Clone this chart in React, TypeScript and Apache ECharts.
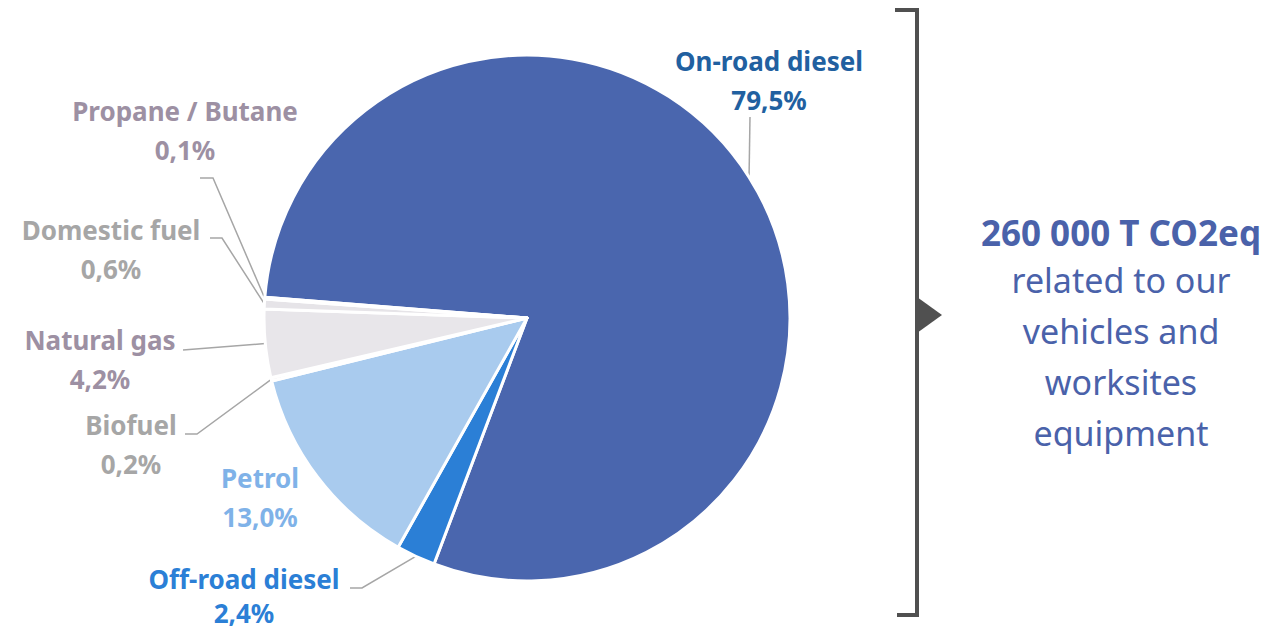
import React, { useEffect, useRef } from "react";
import * as echarts from "echarts";

const categories = [
  "On-road diesel",
  "Off-road diesel",
  "Petrol",
  "Biofuel",
  "Natural gas",
  "Domestic fuel",
  "Propane / Butane",
];
const shares = [79.5, 2.4, 13.0, 0.2, 4.2, 0.6, 0.1];
const sliceColors = ["#4a66ae", "#2b7fd6", "#a9cbee", "#e6e4e8", "#e8e6ea", "#e6e4e8", "#d8d4dc"];
const labelColors = ["#2160a0", "#2b7fd6", "#7fb2e8", "#a6a6a6", "#9d90a3", "#a6a6a6", "#9d90a3"];
const totalTitle = "260 000 T CO2eq";
const totalLines = ["related to our", "vehicles and", "worksites", "equipment"];

const CX = 527;
const CY = 318;
const R = 263;
const START = 175.5;

// label placement (centre x, middle y, line height) and label line bends
const labelPlace: Record<string, { x: number; y: number; lh: number; pts: number[][] | null }> = {
  "On-road diesel": { x: 769, y: 80, lh: 39, pts: [[750, 117], [750, 117]] },
  "Off-road diesel": { x: 244, y: 596, lh: 34, pts: [[362, 588], [350, 588]] },
  Petrol: { x: 260, y: 497, lh: 39, pts: null },
  Biofuel: { x: 131, y: 444, lh: 39, pts: [[197, 434], [185, 434]] },
  "Natural gas": { x: 100, y: 359, lh: 39, pts: [[183, 350], [183, 350]] },
  "Domestic fuel": { x: 111, y: 249, lh: 39, pts: [[222, 238], [210, 238]] },
  "Propane / Butane": { x: 185, y: 130, lh: 39, pts: [[213, 178], [200, 178]] },
};

const fmt = (v: number) => v.toFixed(1).replace(".", ",") + "%";

export default function App() {
  const ref = useRef<HTMLDivElement>(null);
  useEffect(() => {
    if (!ref.current) return;
    const chart = echarts.init(ref.current, undefined, { renderer: "svg" });
    const total = shares.reduce((a, b) => a + b, 0);
    const mids: number[] = [];
    let acc = 0;
    shares.forEach((v) => {
      const a0 = START - (acc / total) * 360;
      acc += v;
      const a1 = START - (acc / total) * 360;
      mids.push(((a0 + a1) / 2) * (Math.PI / 180));
    });
    const font = "'Noto Sans', 'Open Sans', sans-serif";
    chart.setOption({
      animation: false,
      backgroundColor: "#ffffff",
      series: [
        {
          type: "pie",
          center: [CX, CY],
          radius: [0, R],
          startAngle: START,
          clockwise: true,
          avoidLabelOverlap: false,
          itemStyle: { borderColor: "#ffffff", borderWidth: 3 },
          label: {
            show: true,
            position: "outside",
            fontFamily: font,
            fontWeight: "bold",
            fontSize: 26,
            lineHeight: 39,
            align: "center",
            formatter: (p: any) => `${p.name}\n${fmt(p.value)}`,
          },
          labelLine: { show: true, lineStyle: { color: "#a6a6a6", width: 1.5 } },
          labelLayout: (p: any) => {
            const name = categories[p.dataIndex];
            const lp = labelPlace[name];
            const m = mids[p.dataIndex];
            const edge = [CX + R * Math.cos(m), CY - R * Math.sin(m)];
            const out: any = { x: lp.x, y: lp.y, align: "center", verticalAlign: "middle" };
            if (lp.pts) out.labelLinePoints = [edge, lp.pts[0], lp.pts[1]];
            return out;
          },
          emphasis: { disabled: true },
          data: categories.map((c, i) => ({
            name: c,
            value: shares[i],
            itemStyle: { color: sliceColors[i] },
            label: { color: labelColors[i], lineHeight: labelPlace[c].lh },
            labelLine: { show: labelPlace[c].pts !== null },
          })),
        },
      ],
      graphic: [
        {
          type: "polyline",
          shape: { points: [[895, 10], [917, 10], [917, 615], [897, 615]] },
          style: { stroke: "#505050", lineWidth: 4, fill: null },
        },
        {
          type: "polygon",
          shape: { points: [[917, 297], [942, 315], [917, 333]] },
          style: { fill: "#505050" },
        },
        {
          type: "text",
          x: 1121,
          y: 232,
          style: {
            text: totalTitle,
            fill: "#4a62aa",
            font: `bold 35px ${font}`,
            align: "center",
            verticalAlign: "middle",
          },
        },
        ...totalLines.map((t, i) => ({
          type: "text",
          x: 1121,
          y: 280 + i * 51,
          style: {
            text: t,
            fill: "#4a62aa",
            font: `34px ${font}`,
            align: "center",
            verticalAlign: "middle",
          },
        })),
      ],
    });
    return () => chart.dispose();
  }, []);
  return (
    <div
      ref={ref}
      style={{ position: "absolute", left: 0, top: 0, width: 1271, height: 630 }}
    />
  );
}
